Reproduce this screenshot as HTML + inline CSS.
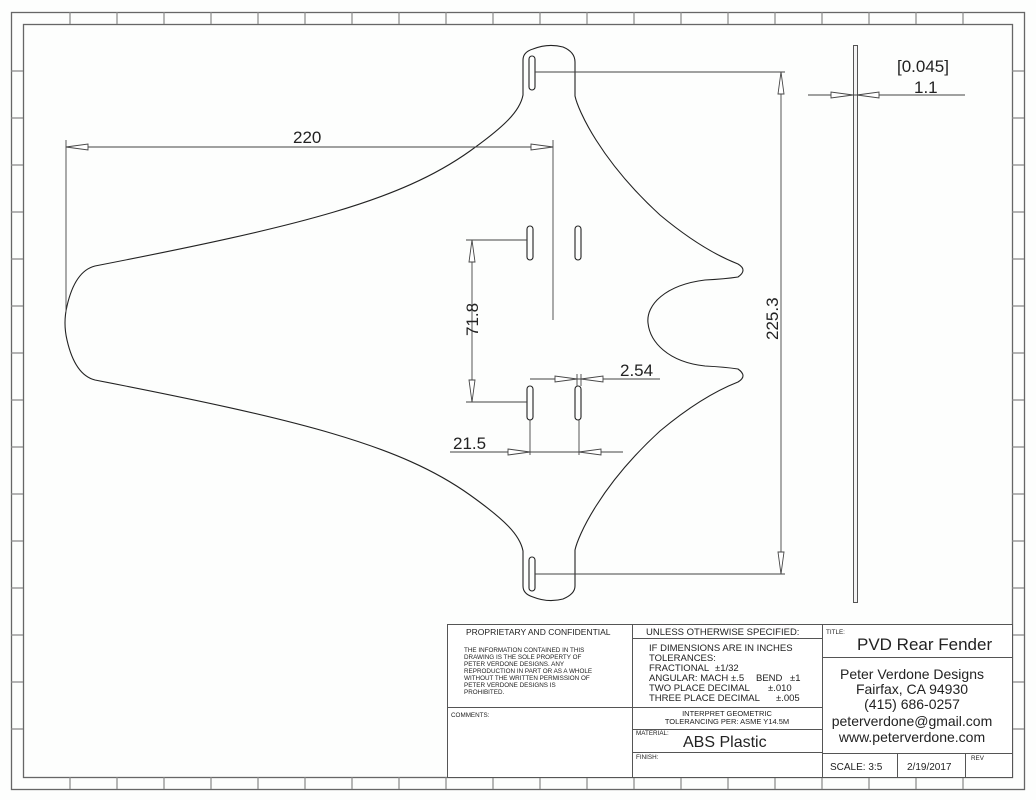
<!DOCTYPE html>
<html><head><meta charset="utf-8"><style>
html,body{margin:0;padding:0;background:#fff;}
svg{display:block;font-family:"Liberation Sans",sans-serif;}
</style></head><body>
<svg width="1036" height="800" viewBox="0 0 1036 800" xmlns="http://www.w3.org/2000/svg">
<rect width="1036" height="800" fill="#fdfefd"/>
<g stroke="#666" stroke-width="1.3" fill="none">
<rect x="11.5" y="12.5" width="1013" height="777"/>
<rect x="23.5" y="24.5" width="989" height="753"/>
</g>
<g stroke="#888" stroke-width="1.2">
<path d="M70,12V24M117,12V24M164,12V24M211,12V24M258,12V24M305,12V24M352,12V24M399,12V24M446,12V24M493,12V24M540,12V24M587,12V24M634,12V24M681,12V24M728,12V24M775,12V24M822,12V24M869,12V24M916,12V24M963,12V24"/>
<path d="M70,777V789M117,777V789M164,777V789M211,777V789M258,777V789M305,777V789M352,777V789M399,777V789M446,777V789M493,777V789M540,777V789M587,777V789M634,777V789M681,777V789M728,777V789M775,777V789M822,777V789M869,777V789M916,777V789M963,777V789"/>
<path d="M11,71H23M11,118H23M11,165H23M11,212H23M11,259H23M11,306H23M11,353H23M11,400H23M11,447H23M11,494H23M11,541H23M11,588H23M11,635H23M11,682H23M11,729H23"/>
<path d="M1012,71H1024M1012,118H1024M1012,165H1024M1012,212H1024M1012,259H1024M1012,306H1024M1012,353H1024M1012,400H1024M1012,447H1024M1012,494H1024M1012,541H1024M1012,588H1024M1012,635H1024M1012,682H1024M1012,729H1024"/>
</g>

<g stroke="#222" stroke-width="1.1" fill="none">
<path d="M523,95 L523,60 Q523,52 533,49 Q548,43 563,47 Q575,52 575,62 L575,96
C578,110 600,160 660,215 C690,240 715,255 738,264 Q748,270 738,277 Q725,279 705,280
C665,285 646,305 648,323 C650,342 668,362 705,366 Q725,367 738,369 Q748,376 738,382
C715,391 690,406 660,431 C600,486 578,536 575,550 L575,586 Q575,594 563,599 Q548,603 533,597 Q523,594 523,586 L523,551
C520,535 505,520 470,495 C400,445 300,420 95,380 Q75,375 67,340 Q63,323 67,306 Q75,271 95,266
C300,226 400,201 470,151 C505,126 520,111 523,95 Z"/>
<rect x="529" y="56" width="6" height="34" rx="3"/>
<rect x="527" y="226" width="6" height="34" rx="3"/>
<rect x="575" y="226" width="6" height="34" rx="3"/>
<rect x="527" y="386" width="6" height="34" rx="3"/>
<rect x="575" y="386" width="6" height="34" rx="3"/>
<rect x="529" y="557" width="6" height="34" rx="3"/>
</g>

<rect x="853.5" y="45.5" width="4" height="557" fill="#f4f4f4" stroke="#555" stroke-width="1"/>

<g stroke="#444" stroke-width="0.9" fill="none">
<path d="M66,147H553M66,140V312M553,140V320"/>
<path d="M472,240V402M466,240H527M466,402H527"/>
<path d="M781,72V574M535,72H785M535,574H785"/>
<path d="M530,379H660M577,374V386M581,374V386M530,420V455M579,420V455M450,452H623"/>
<path d="M808,95H965"/>
</g>
<g stroke="#444" stroke-width="0.9" fill="#fff">
<path d="M66,147L88,144V150Z"/>
<path d="M553,147L531,144V150Z"/>
<path d="M472,240L469,262H475Z"/>
<path d="M472,402L469,380H475Z"/>
<path d="M781,72L778,94H784Z"/>
<path d="M781,574L778,552H784Z"/>
<path d="M577,379L555,376V382Z"/>
<path d="M581,379L603,376V382Z"/>
<path d="M530,452L508,449V455Z"/>
<path d="M579,452L601,449V455Z"/>
<path d="M853,95L831,92V98Z"/>
<path d="M857,95L879,92V98Z"/>
</g>
<g fill="#222" font-size="17">
<text x="293" y="143">220</text>
<text x="620" y="376">2.54</text>
<text x="453" y="449">21.5</text>
<text x="897" y="72">[0.045]</text>
<text x="914" y="93">1.1</text>
<text transform="translate(478,336) rotate(-90)">71.8</text>
<text transform="translate(778,340) rotate(-90)">225.3</text>
</g>

<rect x="447.5" y="624.5" width="565" height="153" fill="#fff" stroke="#555" stroke-width="1"/>
<g stroke="#555" stroke-width="1">
<path d="M632.5,624V777M822.5,624V777M447,707.5H632M632,638.5H822M632,707.5H822M632,729.5H822M632,752.5H822M822,657.5H1012M822,753.5H1012M897.5,753V777M965.5,753V777"/>
</g>
<g fill="#222">
<text x="466" y="635" font-size="8.5">PROPRIETARY AND CONFIDENTIAL</text>
<g font-size="6.3">
<text x="464" y="652">THE INFORMATION CONTAINED IN THIS</text>
<text x="464" y="659">DRAWING IS THE SOLE PROPERTY OF</text>
<text x="464" y="666">PETER VERDONE DESIGNS.  ANY</text>
<text x="464" y="673">REPRODUCTION IN PART OR AS A WHOLE</text>
<text x="464" y="680">WITHOUT THE WRITTEN PERMISSION OF</text>
<text x="464" y="687">PETER VERDONE DESIGNS IS</text>
<text x="464" y="694">PROHIBITED.</text>
<text x="451" y="717">COMMENTS:</text>
<text x="636" y="735">MATERIAL:</text>
<text x="636" y="759">FINISH:</text>
<text x="826" y="634">TITLE:</text>
<text x="971" y="760">REV</text>
</g>
<text x="646" y="635" font-size="9.5">UNLESS OTHERWISE SPECIFIED:</text>
<g font-size="9.5">
<text x="649" y="651">IF DIMENSIONS ARE IN INCHES</text>
<text x="649" y="661">TOLERANCES:</text>
<text x="649" y="671">FRACTIONAL</text><text x="715" y="671">±1/32</text>
<text x="649" y="681">ANGULAR: MACH</text><text x="731" y="681">±.5</text><text x="756" y="681">BEND</text><text x="790" y="681">±1</text>
<text x="649" y="691">TWO PLACE DECIMAL</text><text x="768" y="691">±.010</text>
<text x="649" y="701">THREE PLACE DECIMAL</text><text x="776" y="701">±.005</text>
<text x="830" y="770" font-size="10">SCALE: 3:5</text>
<text x="907" y="770" font-size="10">2/19/2017</text>
</g>
<text x="727" y="716" font-size="7.5" text-anchor="middle">INTERPRET GEOMETRIC</text>
<text x="727" y="724" font-size="7.5" text-anchor="middle">TOLERANCING PER: ASME Y14.5M</text>
<text x="683" y="747" font-size="16">ABS Plastic</text>
<text x="857" y="650" font-size="17">PVD Rear Fender</text>
<g font-size="14" text-anchor="middle">
<text x="912" y="679">Peter Verdone Designs</text>
<text x="912" y="694">Fairfax, CA 94930</text>
<text x="912" y="709">(415) 686-0257</text>
<text x="912" y="726">peterverdone@gmail.com</text>
<text x="912" y="742">www.peterverdone.com</text>
</g>
</g>
</svg>
</body></html>
